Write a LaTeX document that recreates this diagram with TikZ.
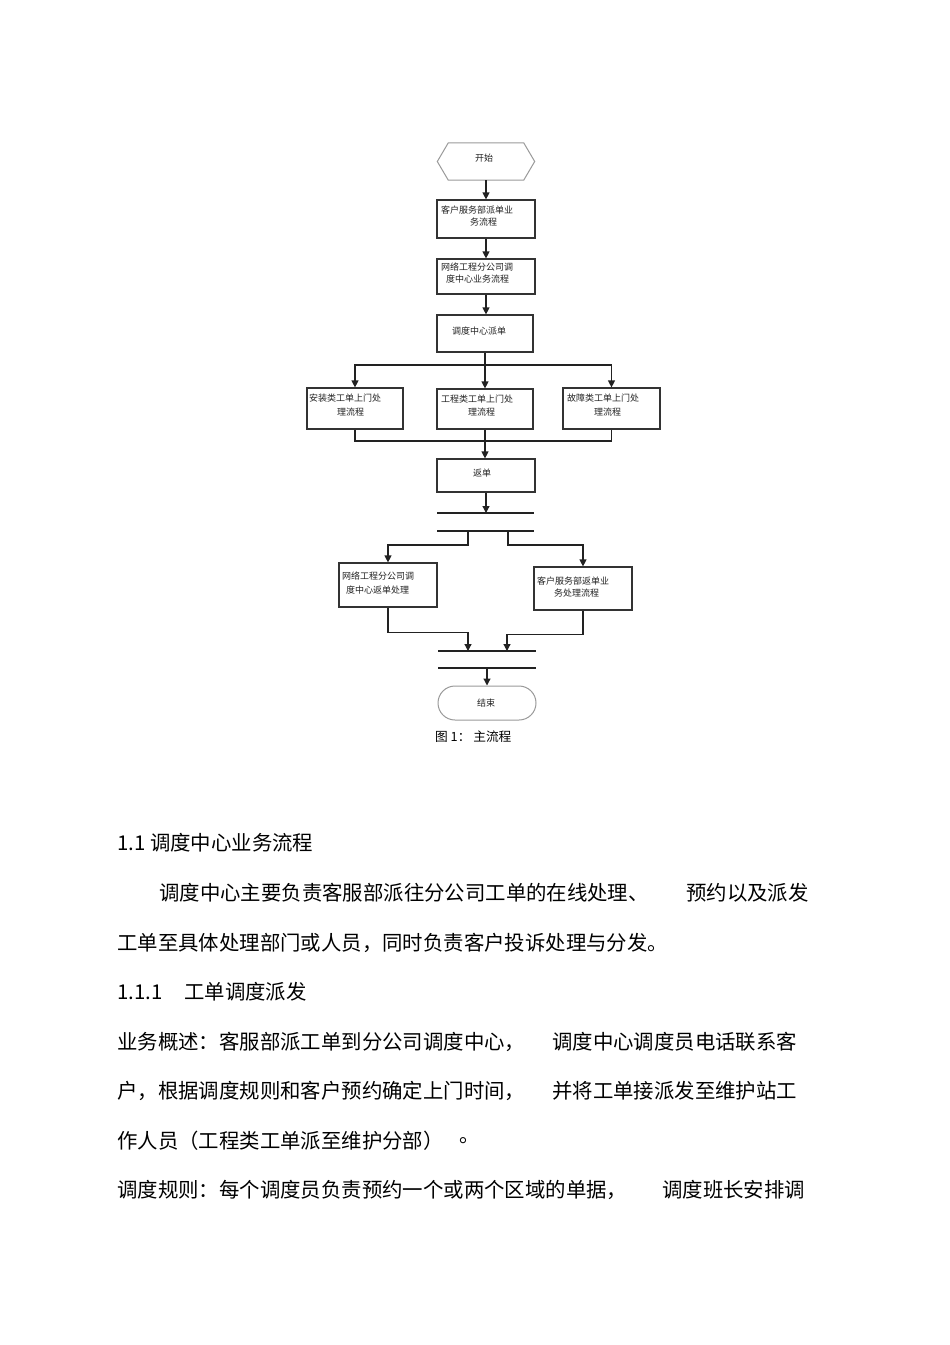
\documentclass[tikz,border=0pt]{standalone}
\usepackage{fontspec}
\newfontfamily\cjk{Noto Sans CJK SC}
\usetikzlibrary{arrows.meta}
\definecolor{boxc}{HTML}{333333}
\definecolor{linec}{HTML}{222222}
\definecolor{grayc}{HTML}{9A9A9A}
\definecolor{txtc}{HTML}{222222}
\begin{document}
\begin{tikzpicture}[x=1pt,y=-1pt,
  box/.style={draw=boxc, line width=1.2pt, inner sep=0},
  lbl/.style={anchor=west, inner sep=0, text=txtc, font=\cjk\fontsize{9}{11}\selectfont},
  body/.style={anchor=west, inner sep=0, text=black, font=\cjk\fontsize{20.4}{24}\selectfont},
  captext/.style={anchor=west, inner sep=0, text=black, font=\cjk\fontsize{12.7}{15}\selectfont},
  ln/.style={line width=1.2pt, draw=linec},
  arr/.style={line width=1.2pt, draw=linec, -{Triangle[length=7pt,width=7pt]}},
  bar/.style={inner sep=0, minimum height=0pt, outer sep=0},
  term/.style={draw=grayc, line width=1pt, inner sep=0}
]
\fill[white] (0,0) rectangle (950,1345);
\useasboundingbox (0,0) rectangle (950,1345);

% start hexagon
\node[inner sep=0, minimum width=97pt, minimum height=37pt] (start) at (486,161.5) {};
\draw[term] (start.west) -- ([xshift=11pt]start.north west) -- ([xshift=-11pt]start.north east)
  -- (start.east) -- ([xshift=-11pt]start.south east) -- ([xshift=11pt]start.south west) -- cycle;
\node[lbl] (startt) at (475,158) {开始};

% boxes
\node[box, minimum width=98pt, minimum height=38pt] (b1) at (486,219) {};
\node[lbl] (b1t1) at (441,210) {客户服务部派单业};
\node[lbl] (b1t2) at (470,222) {务流程};

\node[box, minimum width=98pt, minimum height=35pt] (b2) at (486,276.5) {};
\node[lbl] (b2t1) at (441,267) {网络工程分公司调};
\node[lbl] (b2t2) at (446,279) {度中心业务流程};

\node[box, minimum width=96pt, minimum height=37pt] (b3) at (485,333.5) {};
\node[lbl] (b3t) at (452,331) {调度中心派单};

\node[box, minimum width=96pt, minimum height=41pt] (bA) at (355,408.5) {};
\node[lbl] (bAt1) at (309,398) {安装类工单上门处};
\node[lbl] (bAt2) at (337,412) {理流程};

\node[box, minimum width=96pt, minimum height=40pt] (bB) at (485,409) {};
\node[lbl] (bBt1) at (441,399) {工程类工单上门处};
\node[lbl] (bBt2) at (468,412) {理流程};

\node[box, minimum width=97pt, minimum height=41pt] (bC) at (611.5,408.5) {};
\node[lbl] (bCt1) at (567,398) {故障类工单上门处};
\node[lbl] (bCt2) at (594,412) {理流程};

\node[box, minimum width=98pt, minimum height=33pt] (bR) at (486,475.5) {};
\node[lbl] (bRtx) at (473,473) {返单};

\node[box, minimum width=98pt, minimum height=44pt] (bL) at (388,585) {};
\node[lbl] (bLt1) at (342,576) {网络工程分公司调};
\node[lbl] (bLt2) at (346,590) {度中心返单处理};

\node[box, minimum width=98pt, minimum height=43pt] (bRt) at (583,588.5) {};
\node[lbl] (bRtt1) at (537,581) {客户服务部返单业};
\node[lbl] (bRtt2) at (554,593) {务处理流程};

% bars
\node[bar, minimum width=97pt] (bar1) at (485.5,513) {};
\node[bar, minimum width=97pt] (bar2) at (485.5,531) {};
\node[bar, minimum width=98pt] (bar3) at (487,651) {};
\node[bar, minimum width=98pt] (bar4) at (487,668) {};
\draw[ln] (bar1.west) -- (bar1.east);
\draw[ln] (bar2.west) -- (bar2.east);
\draw[ln] (bar3.west) -- (bar3.east);
\draw[ln] (bar4.west) -- (bar4.east);

% end terminal
\node[term, rounded corners=17pt, minimum width=98pt, minimum height=34pt] (stop) at (487,703) {};
\node[lbl] (stopt) at (477,703) {结束};

% caption
\node[captext] (capt) at (435,737) {图 1： 主流程};

% connectors
\coordinate (fork) at (485,365);
\coordinate (join) at (485,441);
\draw[arr] (start.south) -- (b1.north);
\draw[arr] (b1.south) -- (b2.north);
\draw[arr] (b2.south) -- (b2.south |- b3.north);
\draw[ln] (b3.south) -- (fork);
\draw[arr] (fork) -| (bA.north);
\draw[arr] (fork) -| (bC.north);
\draw[arr] (fork) -- (bB.north);
\draw[ln] (bA.south) |- (join);
\draw[ln] (bC.south) |- (join);
\draw[ln] (bB.south) -- (join);
\draw[arr] (join) -- (join |- bR.north);
\draw[arr] (bR.south) -- (bR.south |- bar1.north);
\draw[arr] ([xshift=-17.5pt]bar2.center) -- ++(0,14) -| (bL.north);
\draw[arr] ([xshift=22.5pt]bar2.center) -- ++(0,14) -| (bRt.north);
\draw[arr] (bL.south) -- ++(0,25) -| ([xshift=-19pt]bar3.center);
\draw[arr] (bRt.south) -- ++(0,24) -| ([xshift=20pt]bar3.center);
\draw[arr] (bar4.center) -- (stop.north);

% body text
\node[body] (h1) at (117,843) {1.1 调度中心业务流程};
\node[body] (p1a) at (159,893) {调度中心主要负责客服部派往分公司工单的在线处理、};
\node[body] (p1b) at (686,893) {预约以及派发};
\node[body] (p2) at (117,943) {工单至具体处理部门或人员，同时负责客户投诉处理与分发。};
\node[body] (h2a) at (117,992) {1.1.1};
\node[body] (h2b) at (184,992) {工单调度派发};
\node[body] (p3a) at (117,1042) {业务概述：客服部派工单到分公司调度中心，};
\node[body] (p3b) at (552,1042) {调度中心调度员电话联系客};
\node[body] (p4a) at (117,1091) {户，根据调度规则和客户预约确定上门时间，};
\node[body] (p4b) at (552,1091) {并将工单接派发至维护站工};
\node[body] (p5a) at (117,1141) {作人员（工程类工单派至维护分部）};
\node[body] (p5b) at (459,1141) {。};
\node[body] (p6a) at (117,1190) {调度规则：每个调度员负责预约一个或两个区域的单据，};
\node[body] (p6b) at (662,1190) {调度班长安排调};
\end{tikzpicture}
\end{document}
